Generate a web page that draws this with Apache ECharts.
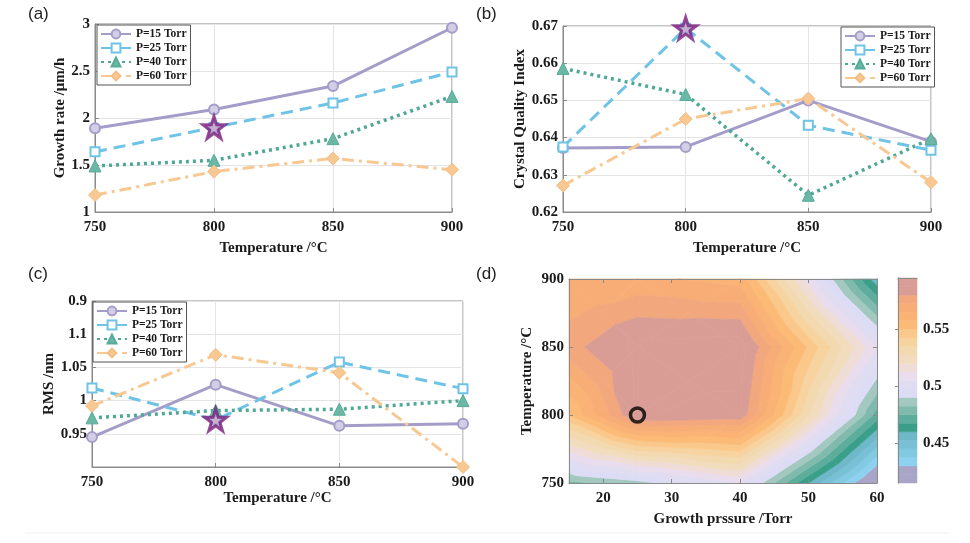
<!DOCTYPE html>
<html>
<head>
<meta charset="utf-8">
<script src="https://cdn.jsdelivr.net/npm/echarts@6/dist/echarts.min.js"></script>
<style>
html, body { margin: 0; padding: 0; background: #fff; }
#chart { width: 970px; height: 543px; }
</style>
</head>
<body>
<div id="chart"></div>
<script>
// ---- data ----
var temps = [750, 800, 850, 900];
var names = ['P=15 Torr', 'P=25 Torr', 'P=40 Torr', 'P=60 Torr'];

// (a) growth rate, um/h
var growth15 = [1.89, 2.09, 2.34, 2.96];
var growth25 = [1.64, 1.90, 2.16, 2.49];
var growth40 = [1.49, 1.55, 1.78, 2.23];
var growth60 = [1.18, 1.43, 1.57, 1.45];

// (b) crystal quality index
var quality15 = [0.6372, 0.6375, 0.6500, 0.6389];
var quality25 = [0.6375, 0.6694, 0.6433, 0.6366];
var quality40 = [0.6586, 0.6516, 0.6245, 0.6397];
var quality60 = [0.6271, 0.6450, 0.6505, 0.6280];

// (c) RMS roughness, nm
var rms15 = [0.945, 1.024, 0.962, 0.965];
var rms25 = [1.019, 0.971, 1.058, 1.018];
var rms40 = [0.974, 0.985, 0.987, 1.000];
var rms60 = [0.992, 1.069, 1.042, 0.900];
var rmsTickValues = [0.9, 0.95, 1, 1.05, 1.1, 1.15];
var rmsTickText = ['', '0.95', '1', '1.05', '1.1', '0.9'];

// chosen condition (stars / ring)
var starGrowth = [800, 1.90];
var starQuality = [800, 0.6694];
var starRms = [800, 0.971];
var bestPoint = [25, 800];

// (d) contour map: rows = temps, columns = pressures
var pressures = [15, 25, 40, 60];
var mapRow750 = [0.480, 0.487, 0.505, 0.415];
var mapRow800 = [0.550, 0.588, 0.585, 0.472];
var mapRow850 = [0.577, 0.590, 0.592, 0.505];
var mapRow900 = [0.565, 0.567, 0.562, 0.455];
var mapRows = [mapRow750, mapRow800, mapRow850, mapRow900];
var levels = [0.415, 0.4225, 0.43, 0.4375, 0.445, 0.4525, 0.46, 0.4675, 0.475, 0.4825,
  0.49, 0.4975, 0.505, 0.5125, 0.52, 0.5275, 0.535, 0.5425, 0.55, 0.5575, 0.565,
  0.5725, 0.58, 0.5875, 0.595];
var barTicks = [0.45, 0.5, 0.55];
var pressureTicks = [20, 30, 40, 50, 60];

// ---- colormap for the contour ----
var cmap = [
  [0.415, '#a9a5c6'], [0.428, '#a9a5c6'], [0.433, '#8dd2f0'], [0.459, '#6ab5c5'],
  [0.461, '#2c9a82'], [0.487, '#a6c9c1'], [0.492, '#dcdcf5'], [0.505, '#e2ddf2'],
  [0.512, '#eedce8'], [0.522, '#f1ddc0'], [0.535, '#f4d8a9'], [0.545, '#f9ca8e'],
  [0.555, '#fdb874'], [0.568, '#f9ae76'], [0.578, '#f2a67e'], [0.5801, '#d99d95'],
  [0.595, '#d99d95']
];
function hexRgb(h) {
  return [parseInt(h.substr(1, 2), 16), parseInt(h.substr(3, 2), 16), parseInt(h.substr(5, 2), 16)];
}
function colorAt(v) {
  if (v <= cmap[0][0]) return cmap[0][1];
  for (var k = 1; k < cmap.length; k++) {
    if (v <= cmap[k][0]) {
      var t = (v - cmap[k - 1][0]) / (cmap[k][0] - cmap[k - 1][0]);
      var a = hexRgb(cmap[k - 1][1]), b = hexRgb(cmap[k][1]);
      return 'rgb(' + [0, 1, 2].map(function (c) { return Math.round(a[c] + t * (b[c] - a[c])); }).join(',') + ')';
    }
  }
  return cmap[cmap.length - 1][1];
}
function bandColor(k) { return colorAt((levels[k] + levels[k + 1]) / 2); }

// clip polygon (points carry value v) to f(v) >= 0
function clipPoly(poly, f) {
  var out = [];
  for (var i = 0; i < poly.length; i++) {
    var cur = poly[i], prev = poly[(i + poly.length - 1) % poly.length];
    var fc = f(cur.v), fp = f(prev.v);
    if ((fc >= 0) !== (fp >= 0)) {
      var t = fp / (fp - fc);
      out.push({ x: prev.x + t * (cur.x - prev.x), y: prev.y + t * (cur.y - prev.y), v: prev.v + t * (cur.v - prev.v) });
    }
    if (fc >= 0) out.push(cur);
  }
  return out;
}

var cells = [];
for (var j = 0; j < temps.length - 1; j++) {
  for (var i = 0; i < pressures.length - 1; i++) {
    cells.push([pressures[i], temps[j], i, j]);
  }
}
var bands = [];
for (var k = 0; k < levels.length - 1; k++) bands.push([0, levels[k], levels[k + 1], k]);

function renderCell(params, api) {
  var i = api.value(2), j = api.value(3);
  function node(a, b) { return { x: pressures[a], y: temps[b], v: mapRows[b][a] }; }
  var p0 = node(i, j), p1 = node(i + 1, j), p2 = node(i + 1, j + 1), p3 = node(i, j + 1);
  var m = { x: (p0.x + p1.x) / 2, y: (p0.y + p3.y) / 2, v: (p0.v + p1.v + p2.v + p3.v) / 4 };
  var tris = [[p0, p1, m], [p1, p2, m], [p2, p3, m], [p3, p0, m]];
  var children = [];
  tris.forEach(function (tri) {
    for (var k = 0; k < levels.length - 1; k++) {
      var lo = k === 0 ? -1 : levels[k];
      var hi = k === levels.length - 2 ? 2 : levels[k + 1];
      var poly = clipPoly(clipPoly(tri, function (v) { return v - lo; }), function (v) { return hi - v; });
      if (poly.length < 3) continue;
      var col = bandColor(k);
      children.push({
        type: 'polygon',
        shape: { points: poly.map(function (p) { return api.coord([p.x, p.y]); }) },
        style: { fill: col, stroke: col, lineWidth: 0.7 }
      });
    }
  });
  return { type: 'group', children: children };
}
function renderBand(params, api) {
  var a = api.coord([0, api.value(1)]);
  var b = api.coord([1, api.value(2)]);
  var col = bandColor(api.value(3));
  return {
    type: 'rect',
    shape: { x: a[0], y: b[1], width: b[0] - a[0], height: a[1] - b[1] },
    style: { fill: col, stroke: col, lineWidth: 0.5 }
  };
}

// ---- styling helpers ----
var serif = "'Liberation Serif', 'Times New Roman', serif";
var labelFont = { fontFamily: serif, fontWeight: 'bold', fontSize: 15, color: '#1a1a1a' };
var nameFont = { fontFamily: serif, fontWeight: 'bold', fontSize: 15, color: '#1a1a1a' };
var axisGray = '#8a8a8a';

function tempAxis(gi, gap) {
  return {
    gridIndex: gi, type: 'value', min: 750, max: 900, interval: 50,
    name: 'Temperature /°C', nameLocation: 'middle', nameGap: gap, nameTextStyle: nameFont,
    axisLine: { show: true, lineStyle: { color: axisGray } },
    axisTick: { show: true, inside: true, length: 4, lineStyle: { color: axisGray } },
    axisLabel: Object.assign({ margin: 8 }, labelFont),
    splitLine: { show: true, lineStyle: { color: '#e4e4e4' } }
  };
}
function valAxis(gi, name, gap, min, max, step, fmt) {
  var lab = Object.assign({ margin: 5 }, labelFont);
  if (fmt) lab.formatter = fmt;
  return {
    gridIndex: gi, type: 'value', min: min, max: max, interval: step,
    name: name, nameLocation: 'middle', nameGap: gap, nameTextStyle: nameFont,
    axisLine: { show: true, lineStyle: { color: axisGray } },
    axisTick: { show: true, inside: true, length: 4, lineStyle: { color: axisGray } },
    axisLabel: lab,
    splitLine: { show: true, lineStyle: { color: '#e4e4e4' } }
  };
}

var seriesLook = [
  { symbol: 'circle', size: 10, line: { color: '#a59dc9', width: 3, type: 'solid' },
    item: { color: '#d3cee6', borderColor: '#a59dc9', borderWidth: 2 } },
  { symbol: 'rect', size: 9, line: { color: '#6ec3e6', width: 3, type: [12, 7] },
    item: { color: '#ffffff', borderColor: '#6ec3e6', borderWidth: 2 } },
  { symbol: 'triangle', size: 12, line: { color: '#4fa896', width: 3.5, type: [3, 4] },
    item: { color: '#6bb8a6', borderColor: '#57ab99', borderWidth: 1 } },
  { symbol: 'diamond', size: 13, line: { color: '#f8c892', width: 3, type: [12, 5, 3, 5] },
    item: { color: '#f8c892', borderColor: '#f4bd85', borderWidth: 1 } }
];
function lineSeries(gi, sets) {
  return sets.map(function (vals, s) {
    var look = seriesLook[s];
    return {
      name: names[s], type: 'line', xAxisIndex: gi, yAxisIndex: gi,
      data: temps.map(function (t, n) { return [t, vals[n]]; }),
      symbol: look.symbol, symbolSize: look.size, showAllSymbol: true,
      lineStyle: look.line, itemStyle: look.item, z: 3
    };
  });
}
var starPath = 'path://M50,2 L61.8,37.6 L99,37.6 L69,59.6 L80.4,95 L50,73.2 L19.6,95 L31,59.6 L1,37.6 L38.2,37.6 Z';
function starSeries(gi, pt) {
  return {
    type: 'scatter', xAxisIndex: gi, yAxisIndex: gi, data: [pt],
    symbol: starPath, symbolSize: 22, z: 5,
    itemStyle: { color: '#b89cc6', borderColor: '#7a1f7e', borderWidth: 3 }
  };
}
function legendAt(left, top) {
  return {
    data: names, left: left, top: top, orient: 'vertical',
    itemWidth: 30, itemHeight: 11, itemGap: 2, padding: [3, 4, 3, 3],
    borderColor: '#555', borderWidth: 1, backgroundColor: '#fff', borderRadius: 0,
    selectedMode: false,
    textStyle: { fontFamily: serif, fontWeight: 'bold', fontSize: 11.5, color: '#1a1a1a' }
  };
}

var chart = echarts.init(document.getElementById('chart'));
var option = {
  animation: false,
  backgroundColor: '#fff',
  graphic: [
    { type: 'text', left: 28, top: 6, style: { text: '(a)', font: '17px "Liberation Sans", Arial, sans-serif', fill: '#222' } },
    { type: 'text', left: 476, top: 6, style: { text: '(b)', font: '17px "Liberation Sans", Arial, sans-serif', fill: '#222' } },
    { type: 'text', left: 28, top: 266, style: { text: '(c)', font: '17px "Liberation Sans", Arial, sans-serif', fill: '#222' } },
    { type: 'text', left: 476, top: 266, style: { text: '(d)', font: '17px "Liberation Sans", Arial, sans-serif', fill: '#222' } },
    { type: 'line', shape: { x1: 25, y1: 533, x2: 950, y2: 533 }, style: { stroke: '#f0f0f0', lineWidth: 1 } }
  ],
  legend: [legendAt(97, 25), legendAt(841, 27), legendAt(93, 302)],
  grid: [
    { left: 95, top: 24, width: 357, height: 188, show: true, borderColor: axisGray, borderWidth: 1 },
    { left: 563, top: 26, width: 368, height: 186, show: true, borderColor: axisGray, borderWidth: 1 },
    { left: 92, top: 301, width: 371, height: 166, show: true, borderColor: axisGray, borderWidth: 1 },
    { left: 569, top: 279, width: 308, height: 204, show: false },
    { left: 898, top: 278, width: 19, height: 205, show: false }
  ],
  xAxis: [
    tempAxis(0, 29),
    tempAxis(1, 29),
    tempAxis(2, 24),
    {
      gridIndex: 3, type: 'value', min: 15, max: 60, z: 10,
      name: 'Growth prssure /Torr', nameLocation: 'middle', nameGap: 29, nameTextStyle: nameFont,
      axisLine: { show: true, lineStyle: { color: axisGray } },
      axisTick: { show: true, inside: true, length: 4, customValues: pressureTicks, lineStyle: { color: axisGray } },
      axisLabel: Object.assign({ margin: 8, customValues: pressureTicks }, labelFont),
      splitLine: { show: false }
    },
    { gridIndex: 4, type: 'value', min: 0, max: 1, show: false },
    {
      gridIndex: 3, type: 'value', min: 15, max: 60, position: 'top', z: 10,
      axisLine: { show: true, lineStyle: { color: axisGray } },
      axisTick: { show: true, inside: true, length: 4, customValues: pressureTicks, lineStyle: { color: axisGray } },
      axisLabel: { show: false }, splitLine: { show: false }
    },
    {
      gridIndex: 4, type: 'value', min: 0, max: 1, position: 'top', z: 10,
      axisLine: { show: true, lineStyle: { color: axisGray } },
      axisTick: { show: false }, axisLabel: { show: false }, splitLine: { show: false }
    }
  ],
  yAxis: [
    valAxis(0, 'Growth rate /μm/h', 25, 1, 3, 0.5),
    valAxis(1, 'Crystal Quality Index', 31, 0.62, 0.67, 0.01),
    valAxis(2, 'RMS /nm', 35, 0.9, 1.15, 0.05, function (v) {
      for (var n = 0; n < rmsTickValues.length; n++) {
        if (Math.abs(rmsTickValues[n] - v) < 1e-6) return rmsTickText[n];
      }
      return '';
    }),
    {
      gridIndex: 3, type: 'value', min: 750, max: 900, interval: 50, z: 10,
      name: 'Temperature /°C', nameLocation: 'middle', nameGap: 34, nameTextStyle: nameFont,
      axisLine: { show: true, lineStyle: { color: axisGray } },
      axisTick: { show: true, inside: true, length: 4, lineStyle: { color: axisGray } },
      axisLabel: Object.assign({ margin: 5 }, labelFont),
      splitLine: { show: false }
    },
    {
      gridIndex: 4, type: 'value', min: 0.415, max: 0.595, position: 'right', z: 10,
      axisLine: { show: true, lineStyle: { color: axisGray } },
      axisTick: { show: true, inside: true, length: 3, customValues: barTicks, lineStyle: { color: axisGray } },
      axisLabel: Object.assign({ margin: 6, customValues: barTicks }, labelFont),
      splitLine: { show: false }
    },
    {
      gridIndex: 3, type: 'value', min: 750, max: 900, interval: 50, position: 'right', z: 10,
      axisLine: { show: true, lineStyle: { color: axisGray } },
      axisTick: { show: true, inside: true, length: 4, lineStyle: { color: axisGray } },
      axisLabel: { show: false }, splitLine: { show: false }
    },
    {
      gridIndex: 4, type: 'value', min: 0.415, max: 0.595, position: 'left', z: 10,
      axisLine: { show: true, lineStyle: { color: axisGray } },
      axisTick: { show: false }, axisLabel: { show: false }, splitLine: { show: false }
    }
  ],
  series: [].concat(
    lineSeries(0, [growth15, growth25, growth40, growth60]),
    [starSeries(0, starGrowth)],
    lineSeries(1, [quality15, quality25, quality40, quality60]),
    [starSeries(1, starQuality)],
    lineSeries(2, [rms15, rms25, rms40, rms60]),
    [starSeries(2, starRms)],
    [
      {
        type: 'custom', xAxisIndex: 3, yAxisIndex: 3, data: cells,
        encode: { x: 0, y: 1 }, renderItem: renderCell, z: 1, silent: true
      },
      {
        type: 'scatter', xAxisIndex: 3, yAxisIndex: 3, data: [bestPoint],
        symbol: 'circle', symbolSize: 14, z: 6,
        itemStyle: { color: 'rgba(0,0,0,0)', borderColor: '#000', borderWidth: 3.5 }
      },
      {
        type: 'custom', xAxisIndex: 4, yAxisIndex: 4, data: bands,
        encode: { x: 0, y: 1 }, renderItem: renderBand, z: 1, silent: true
      }
    ]
  )
};
chart.setOption(option);
</script>
</body>
</html>
